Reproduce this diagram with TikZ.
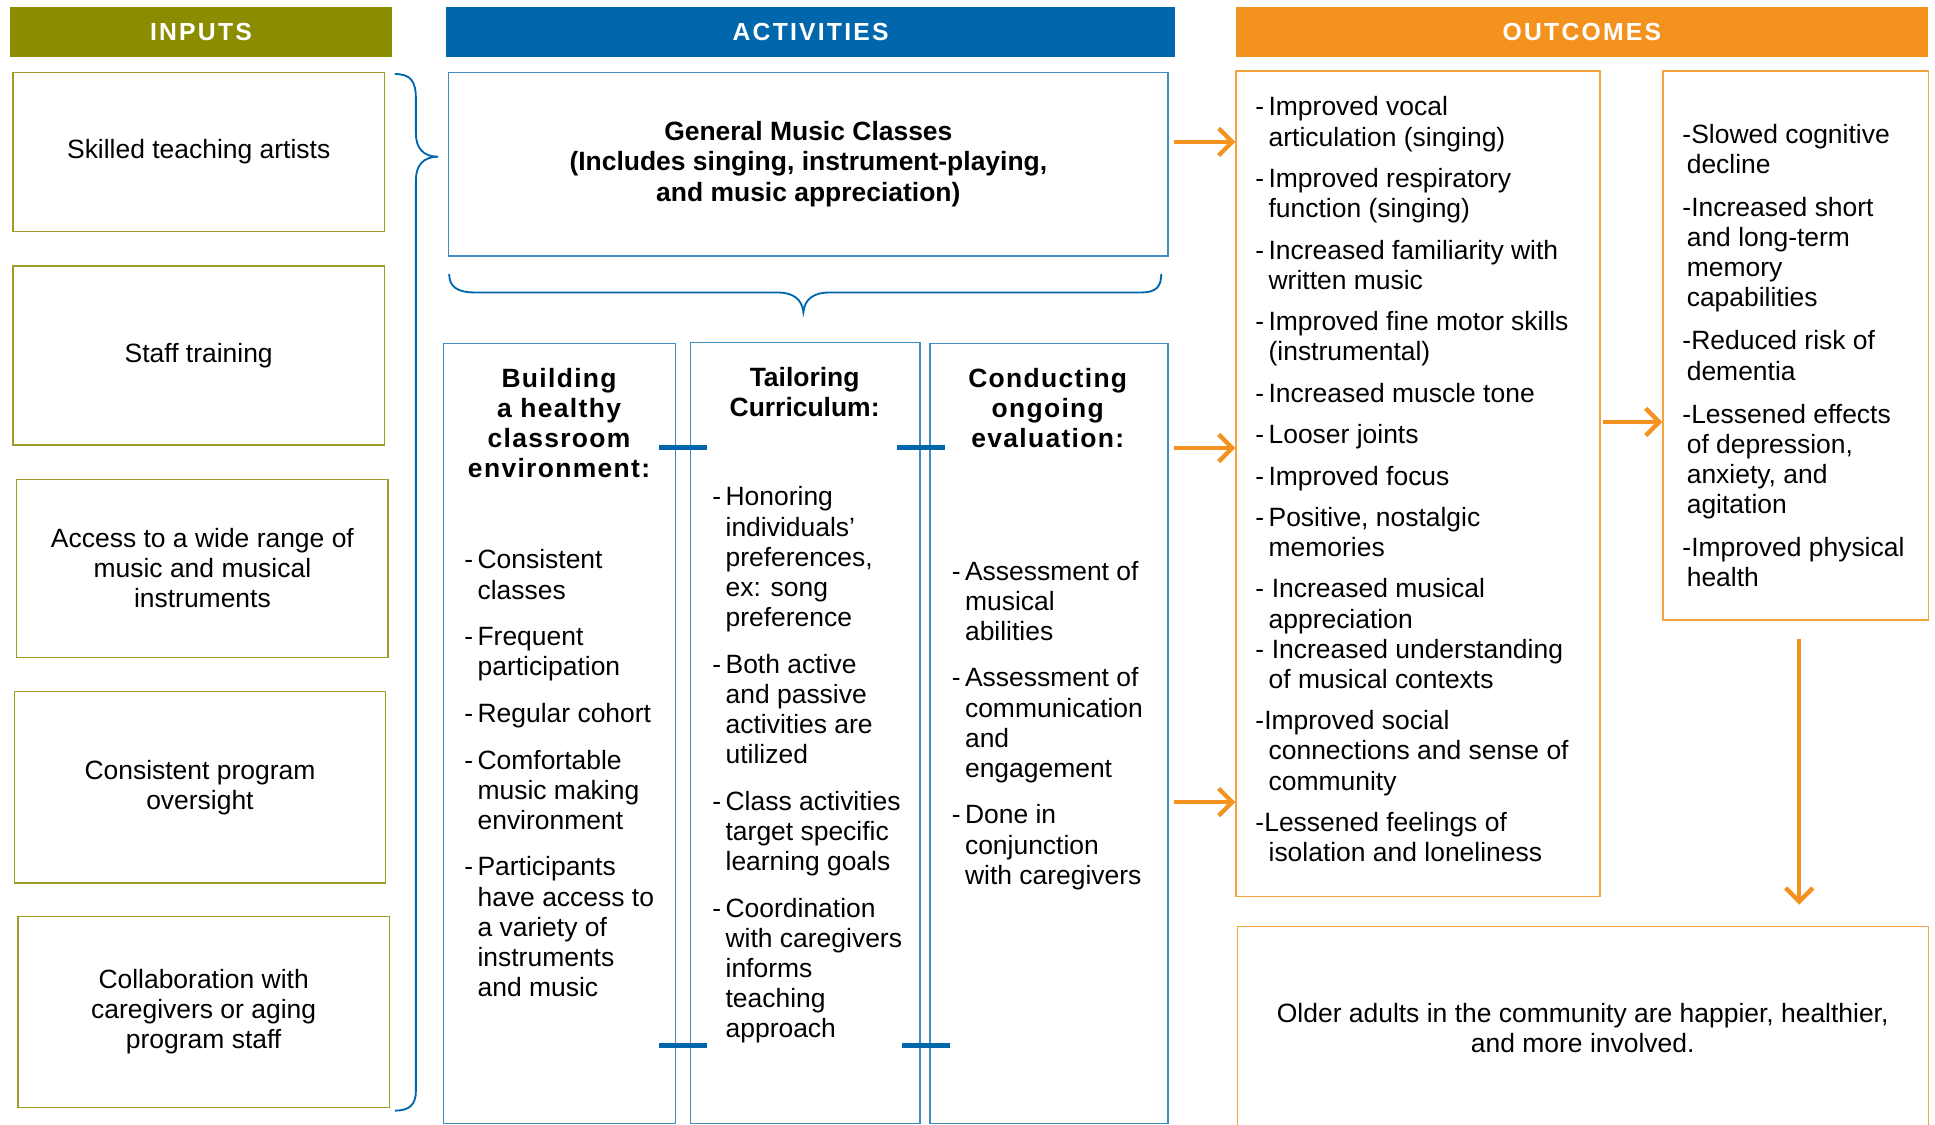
\documentclass[tikz,border=0pt]{standalone}
\usepackage{fontspec}
\setmainfont{Liberation Sans}
\usetikzlibrary{arrows.meta}

\definecolor{inputcol}{RGB}{140,140,0}
\definecolor{actcol}{RGB}{0,103,172}
\definecolor{outcol}{RGB}{243,146,30}

% dash glued to the first word of an item
\newcommand{\dl}[1]{\multicolumn{2}{@{}l@{}}{-#1}}

\begin{document}
\begin{tikzpicture}[x=0.02cm,y=-0.02cm,
    sz/.style 2 args={minimum width=#1*0.02cm,minimum height=#2*0.02cm,anchor=north west},
    txt/.style={inner sep=0pt,font=\fontsize{12.2}{13.9}\selectfont},
    hdr/.style={inner sep=0pt,text=white,font=\bfseries\fontsize{11.4}{13}\selectfont\addfontfeature{LetterSpace=9}},
    inbox/.style={txt,draw=inputcol!85!white,line width=0.6pt,align=center},
    actbox/.style={txt,draw=actcol!75!white,line width=0.6pt,align=center},
    outbox/.style={txt,draw=outcol!85!white,line width=0.6pt,align=center},
    ttl/.style={txt,font=\bfseries\fontsize{12.2}{13.9}\selectfont\addfontfeature{LetterSpace=5},anchor=base},
    lst/.style={txt,anchor=base west},
    brc/.style={draw=actcol,line width=0.85pt},
    bar/.style={draw=actcol,line width=2.3pt},
    arr/.style={draw=outcol,line width=2pt,-{Straight Barb[length=0.22cm,width=0.44cm]}}
  ]
    \useasboundingbox (0,0) rectangle (1568,911);

    % headers
    \node[hdr,fill=inputcol,sz={309}{41}] (inhdr) at (8,5) {INPUTS};
    \node[hdr,fill=actcol,sz={591}{41}] (acthdr) at (361,5) {ACTIVITIES};
    \node[hdr,fill=outcol,sz={561}{41}] (outhdr) at (1001,5) {OUTCOMES};

    % inputs
    \node[inbox,sz={301}{129}] (skill) at (10,58) {Skilled teaching artists};
    \node[inbox,sz={301}{145}] (staff) at (10,215) {Staff training};
    \node[inbox,sz={301}{144}] (access) at (13,388) {Access to a wide range of\\music and musical\\instruments};
    \node[inbox,sz={301}{155}] (oversight) at (11,560) {Consistent program\\oversight};
    \node[inbox,sz={301}{155}] (collab) at (14,742) {Collaboration with\\caregivers or aging\\program staff};

    \draw[brc] (320,60) .. controls (333,60) and (337,66) .. (337,80) -- (337,108)
      .. controls (337,120) and (343,127) .. (355,127)
      .. controls (343,127) and (337,134) .. (337,146) -- (337,884)
      .. controls (337,895) and (332,900) .. (320,900);

    % activities
    \node[actbox,font=\bfseries\fontsize{12.2}{13.9}\selectfont,sz={583}{149}] (gen) at (363,58)
      {General Music Classes\\(Includes singing, instrument-playing,\\and music appreciation)};

    \draw[brc] (364,222) .. controls (364,232) and (370,237) .. (385,237) -- (630,237)
      .. controls (642,237) and (650,242) .. (651,253)
      .. controls (652,242) and (660,237) .. (672,237) -- (925,237)
      .. controls (937,237) and (941,232) .. (941,222);

    \node[actbox,sz={188}{632}] (buildA) at (359,278) {};
    \node[actbox,sz={186}{633}] (tailorB) at (559,277) {};
    \node[actbox,sz={193}{632}] (evalC) at (753,278) {};

    \draw[bar,shorten <=-0.28cm,shorten >=-0.28cm] (buildA.east |- 0,363) -- (tailorB.west |- 0,363);
    \draw[bar,shorten <=-0.38cm,shorten >=-0.26cm] (tailorB.east |- 0,363) -- (evalC.west |- 0,363);
    \draw[bar,shorten <=-0.28cm,shorten >=-0.28cm] (buildA.east |- 0,847) -- (tailorB.west |- 0,847);
    \draw[bar,shorten <=-0.30cm,shorten >=-0.34cm] (tailorB.east |- 0,847) -- (evalC.west |- 0,847);

    \node[ttl] (ttlA) at (453,314) {\begin{tabular}[t]{@{}c@{}}Building\\a healthy\\classroom\\environment:\end{tabular}};
    \node[ttl,font=\bfseries\fontsize{12.2}{13.9}\selectfont] (ttlB) at (652,313) {\begin{tabular}[t]{@{}c@{}}Tailoring\\Curriculum:\end{tabular}};
    \node[ttl] (ttlC) at (849,314) {\begin{tabular}[t]{@{}c@{}}Conducting\\ongoing\\evaluation:\end{tabular}};

    \node[lst] (lstA) at (376,461) {\begin{tabular}[t]{@{}l@{\hspace{2pt}}l@{}}
      -&Consistent\\ &classes\\[7.6pt]
      -&Frequent\\ &participation\\[7.6pt]
      -&Regular cohort\\[7.6pt]
      -&Comfortable\\ &music making\\ &environment\\[7.6pt]
      -&Participants\\ &have access to\\ &a variety of\\ &instruments\\ &and music
    \end{tabular}};
    \node[lst] (lstB) at (577,410) {\begin{tabular}[t]{@{}l@{\hspace{2pt}}l@{}}
      -&Honoring\\ &individuals'\\ &preferences,\\ &ex: song\\ &preference\\[7.6pt]
      -&Both active\\ &and passive\\ &activities are\\ &utilized\\[7.6pt]
      -&Class activities\\ &target specific\\ &learning goals\\[7.6pt]
      -&Coordination\\ &with caregivers\\ &informs\\ &teaching\\ &approach
    \end{tabular}};
    \node[lst] (lstC) at (771,470) {\begin{tabular}[t]{@{}l@{\hspace{2pt}}l@{}}
      -&Assessment of\\ &musical\\ &abilities\\[7.6pt]
      -&Assessment of\\ &communication\\ &and\\ &engagement\\[7.6pt]
      -&Done in\\ &conjunction\\ &with caregivers
    \end{tabular}};

    % outcomes
    \node[outbox,sz={295}{669}] (out1) at (1001,57) {};
    \node[outbox,sz={215}{445}] (out2) at (1347,57) {};
    \node[outbox,sz={560}{165}] (out3) at (1002,750) {Older adults in the community are happier, healthier,\\and more involved.};

    \node[lst] (lst1) at (1017,94) {\begin{tabular}[t]{@{}l@{\hspace{2pt}}l@{}}
      -&Improved vocal\\ &articulation (singing)\\[5.2pt]
      -&Improved respiratory\\ &function (singing)\\[5.2pt]
      -&Increased familiarity with\\ &written music\\[5.2pt]
      -&Improved fine motor skills\\ &(instrumental)\\[5.2pt]
      -&Increased muscle tone\\[5.2pt]
      -&Looser joints\\[5.2pt]
      -&Improved focus\\[5.2pt]
      -&Positive, nostalgic\\ &memories\\[5.2pt]
      -&\hspace{1.5pt}Increased musical\\ &appreciation\\
      -&\hspace{1.5pt}Increased understanding\\ &of musical contexts\\[5.2pt]
      \dl{Improved social}\\ &connections and sense of\\ &community\\[5.2pt]
      \dl{Lessened feelings of}\\ &isolation and loneliness
    \end{tabular}};
    \node[lst] (lst2) at (1363,116) {\begin{tabular}[t]{@{}l@{\hspace{2pt}}l@{}}
      \dl{Slowed cognitive}\\ &decline\\[6pt]
      \dl{Increased short}\\ &and long-term\\ &memory\\ &capabilities\\[6pt]
      \dl{Reduced risk of}\\ &dementia\\[6pt]
      \dl{Lessened effects}\\ &of depression,\\ &anxiety, and\\ &agitation\\[6pt]
      \dl{Improved physical}\\ &health
    \end{tabular}};

    \draw[arr,shorten <=0.08cm] (gen.east |- 0,115) -- (out1.west |- 0,115);
    \draw[arr,shorten <=0.08cm] (evalC.east |- 0,363) -- (out1.west |- 0,363);
    \draw[arr,shorten <=0.08cm] (evalC.east |- 0,650) -- (out1.west |- 0,650);
    \draw[arr,shorten <=0.04cm] (out1.east |- 0,342) -- (out2.west |- 0,342);
    \draw[arr,shorten <=0.3cm,shorten >=0.34cm] (1458,0 |- out2.south) -- (1458,0 |- out3.north);
\end{tikzpicture}
\end{document}
